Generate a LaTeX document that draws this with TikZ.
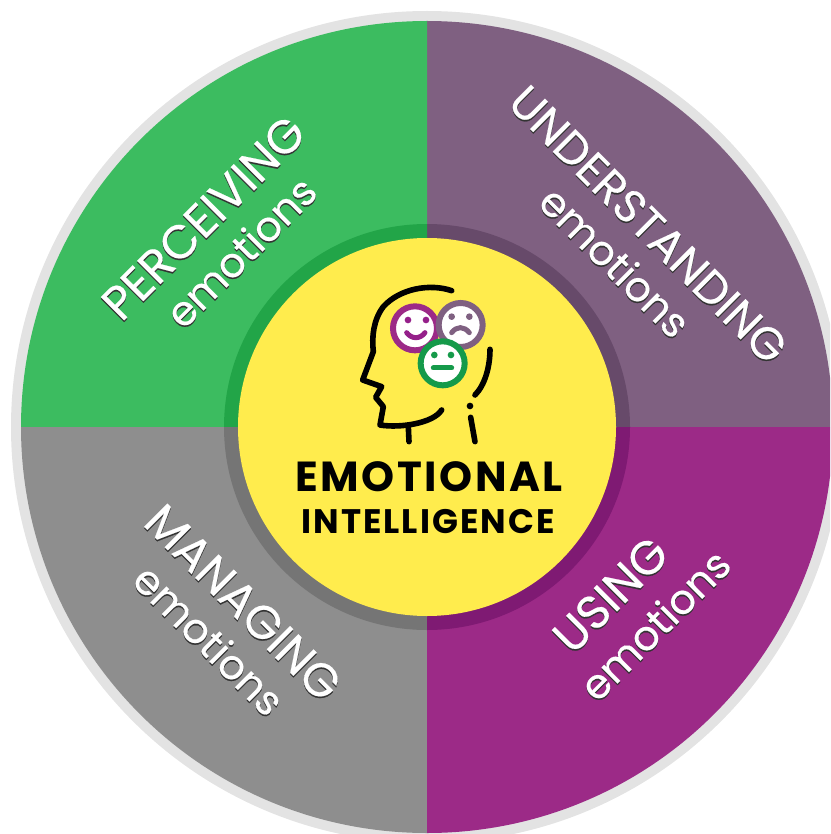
\documentclass[tikz,border=0pt]{standalone}
\usepackage{fontspec}
\setmainfont{Poppins}
\newfontfamily\labelfont[FakeBold=0.4]{Poppins}
\newfontfamily\titlefont[LetterSpace=6]{Poppins}
\definecolor{cgreen}{HTML}{3CBC60}
\definecolor{cmauve}{HTML}{7F6081}
\definecolor{cpurple}{HTML}{9C2A87}
\definecolor{cgrey}{HTML}{8E8E8E}
\definecolor{dgreen}{HTML}{22A548}
\definecolor{dmauve}{HTML}{674A6A}
\definecolor{dpurple}{HTML}{7F1A73}
\definecolor{dgrey}{HTML}{757575}
\definecolor{cyellow}{HTML}{FFEC4D}
\definecolor{cedge}{HTML}{E3E3E3}
\definecolor{fgreen}{HTML}{159A4A}
\definecolor{fpurple}{HTML}{95208A}
\newcommand{\shadowup}[1]{\rlap{\kern-1.2pt\raisebox{-1.2pt}{\textcolor{black!80}{#1}}}#1}
\newcommand{\shadowdn}[1]{\rlap{\kern1.2pt\raisebox{-1.2pt}{\textcolor{black!80}{#1}}}#1}
\tikzset{
  bigword/.style={text=white,font=\labelfont\fontsize{47}{47}\selectfont,inner sep=0pt},
  longword/.style={text=white,font=\labelfont\fontsize{45.5}{45.5}\selectfont,inner sep=0pt},
  smallword/.style={text=white,font=\labelfont\fontsize{41}{41}\selectfont,inner sep=0pt},
  headline/.style={line width=5.6pt,line cap=round,line join=round,draw=black},
  facering/.style={circle,minimum size=44pt,inner sep=0pt,fill=white,line width=6pt},
  facemark/.style={line width=5pt,line cap=round}
}
\begin{document}
\begin{tikzpicture}[x=1pt,y=-1pt]
\useasboundingbox (0,0) rectangle (830,834);
\clip (0,0) rectangle (830,834);
\coordinate (c) at (427,427);
\fill[cedge] (c) circle[radius=416];
\fill[cmauve] (c) -- (427,21) arc[start angle=270,end angle=360,radius=406] -- cycle;
\fill[cgreen] (c) -- (21,427) arc[start angle=180,end angle=270,radius=406] -- cycle;
\fill[cgrey] (c) -- (427,833) arc[start angle=90,end angle=180,radius=406] -- cycle;
\fill[cpurple] (c) -- (833,427) arc[start angle=0,end angle=90,radius=406] -- cycle;
\fill[dmauve] (c) -- (427,224) arc[start angle=270,end angle=360,radius=203] -- cycle;
\fill[dgreen] (c) -- (224,427) arc[start angle=180,end angle=270,radius=203] -- cycle;
\fill[dgrey] (c) -- (427,630) arc[start angle=90,end angle=180,radius=203] -- cycle;
\fill[dpurple] (c) -- (630,427) arc[start angle=0,end angle=90,radius=203] -- cycle;
\fill[cyellow] (c) circle[radius=189];

\node[bigword,rotate=45] (perc) at (204,218) {\shadowup{PERCEIVING}};
\node[smallword,rotate=45] (perce) at (241,252) {\shadowup{emotions}};
\node[longword,rotate=-45] (und) at (648,225) {\shadowdn{UNDERSTANDING}};
\node[smallword,rotate=-45] (unde) at (615,262) {\shadowdn{emotions}};
\node[bigword,rotate=45] (usi) at (611,595) {\shadowup{USING}};
\node[smallword,rotate=45] (usie) at (655,625) {\shadowup{emotions}};
\node[bigword,rotate=-45] (man) at (243,603) {\shadowdn{MANAGING}};
\node[smallword,rotate=-45] (mane) at (209,640) {\shadowdn{emotions}};

\node[inner sep=0pt,font=\titlefont\bfseries\fontsize{42}{42}\selectfont] (t1) at (429,477) {EMOTIONAL};
\node[inner sep=0pt,font=\titlefont\bfseries\fontsize{34}{34}\selectfont] (t2) at (428,522) {INTELLIGENCE};

\begin{scope}[shift={(340,270)},x=0.3333pt,y=-0.3333pt]
\draw[headline] (335,62) .. controls (270,40) and (180,55) .. (130,110)
  .. controls (100,150) and (95,200) .. (100,245) -- (68,330) -- (125,350) -- (107,382) -- (130,410) -- (120,465)
  .. controls (180,475) and (280,460) .. (305,420);
\draw[headline] (205,470) -- (207,515);
\draw[headline] (450,238) .. controls (450,290) and (435,345) .. (405,375);
\fill (390,408) circle[radius=10];
\draw[headline] (392,442) -- (405,515);

\node[facering,draw=cpurple] (f1) at (225,175) {};
\fill[fpurple] (204,150) circle[radius=10] (258,150) circle[radius=10];
\draw[facemark,draw=fpurple] (200,188) .. controls (215,208) and (240,208) .. (255,188);
\node[facering,draw=cmauve] (f2) at (362,165) {};
\fill[cmauve] (335,140) circle[radius=10] (388,140) circle[radius=10];
\draw[facemark,draw=cmauve] (335,188) .. controls (350,168) and (372,168) .. (388,188);
\node[facering,draw=fgreen] (f3) at (308,280) {};
\fill[fgreen] (283,255) circle[radius=10] (333,255) circle[radius=10];
\draw[facemark,draw=fgreen] (280,294) -- (335,294);
\end{scope}
\end{tikzpicture}
\end{document}
